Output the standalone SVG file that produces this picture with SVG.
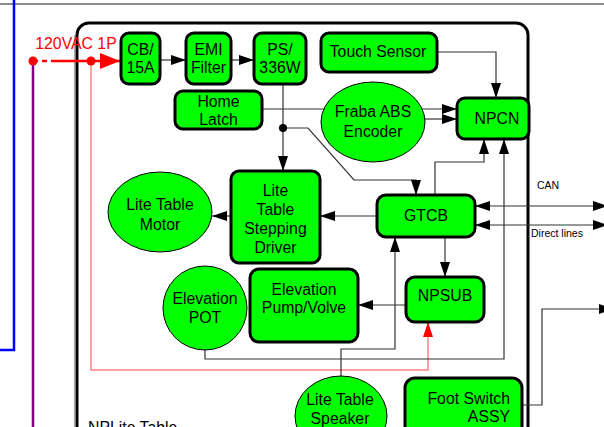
<svg xmlns="http://www.w3.org/2000/svg" width="604" height="427" viewBox="0 0 604 427">
<style>
text{font-family:"Liberation Sans",Arial,sans-serif;font-size:15.8px;fill:#000;text-anchor:middle}
.box{fill:#00ff00;stroke:#000;stroke-width:3}
.ell{fill:#00ff00;stroke:#000;stroke-width:1}
.c{fill:none;stroke:#333;stroke-width:1.2}
.small{font-size:10.5px;text-anchor:start}
</style>
<defs>
<marker id="ah" markerUnits="userSpaceOnUse" markerWidth="15" markerHeight="10" refX="15" refY="5" orient="auto-start-reverse"><path d="M0,0L15,5L0,10z" fill="#000"/></marker>
<marker id="rah" markerUnits="userSpaceOnUse" markerWidth="20" markerHeight="16" refX="20" refY="8" orient="auto"><path d="M0,0L20,8L0,16z" fill="#ff0000"/></marker>
<marker id="rah2" markerUnits="userSpaceOnUse" markerWidth="15" markerHeight="10" refX="15" refY="5" orient="auto"><path d="M0,0L15,5L0,10z" fill="#ff0000"/></marker>
</defs>
<rect width="604" height="427" fill="#fff"/>
<line x1="0" y1="4" x2="604" y2="4" stroke="#666" stroke-width="1.3"/>
<polyline points="14,0 14,350 0,350" fill="none" stroke="#0000ff" stroke-width="2.5"/>
<line x1="33" y1="61" x2="33" y2="427" stroke="#800080" stroke-width="2.5"/>
<g id="container">
<line x1="74.5" y1="35" x2="74.5" y2="427" stroke="#aaa" stroke-width="1.2"/>
<rect x="77" y="23" width="451" height="460" rx="12" fill="none" stroke="#000" stroke-width="3"/>
<text x="88" y="433" style="text-anchor:start">NPLite Table</text>
</g>
<g id="power">
<line x1="33" y1="61" x2="55" y2="61" stroke="#ff0000" stroke-width="2.5" stroke-dasharray="5,4"/>
<line x1="55" y1="61" x2="120" y2="61" stroke="#ff0000" stroke-width="2.5" marker-end="url(#rah)"/>
<polyline points="91,61 91,370 428,370 428,322" fill="none" stroke="#ff8080" stroke-width="1.5" marker-end="url(#rah2)"/>
<circle cx="33" cy="61" r="4.5" fill="#ff0000"/>
<circle cx="91" cy="61" r="4.5" fill="#ff0000"/>
<text x="76" y="49" style="fill:#ff0000">120VAC 1P</text>
</g>
<g id="connectors">
<path class="c" d="M160,60H186" marker-end="url(#ah)"/>
<path class="c" d="M231,60H254" marker-end="url(#ah)"/>
<path class="c" d="M283,84V171" marker-end="url(#ah)"/>
<path class="c" d="M262,109H457" marker-end="url(#ah)"/>
<path class="c" d="M425,119H457" marker-end="url(#ah)"/>
<path class="c" d="M437,52H496V98" marker-end="url(#ah)"/>
<path class="c" d="M283,128H308L354,180H416V195" marker-end="url(#ah)"/>
<circle cx="283" cy="128" r="4" fill="#000"/>
<path class="c" d="M435,195V162H484V139" marker-end="url(#ah)"/>
<path class="c" d="M205,350V359H504V139" marker-end="url(#ah)"/>
<path class="c" d="M377,216H320" marker-end="url(#ah)"/>
<path class="c" d="M231,216H212" marker-end="url(#ah)"/>
<path class="c" d="M445,237V277" marker-end="url(#ah)"/>
<path class="c" d="M406,305H358" marker-end="url(#ah)"/>
<path class="c" d="M341,376V349H395V237" marker-end="url(#ah)"/>
<path class="c" d="M475,206H608" marker-start="url(#ah)" marker-end="url(#ah)"/>
<path class="c" d="M475,225H608" marker-start="url(#ah)" marker-end="url(#ah)"/>
<path class="c" d="M522,405H542V309H614" marker-end="url(#ah)"/>
<text class="small" x="537" y="189">CAN</text>
<text class="small" x="531" y="237">Direct lines</text>
</g>
<g id="cb"><rect class="box" x="121" y="33" width="39" height="51" rx="8"/><text x="140.5" y="55">CB/</text><text x="140.5" y="73">15A</text></g>
<g id="emi"><rect class="box" x="186" y="33" width="45" height="51" rx="8"/><text x="208.5" y="55">EMI</text><text x="208.5" y="73">Filter</text></g>
<g id="ps"><rect class="box" x="254" y="33" width="52" height="51" rx="8"/><text x="280" y="55">PS/</text><text x="280" y="73">336W</text></g>
<g id="touch"><rect class="box" x="321" y="33" width="116" height="39" rx="8"/><text x="378" y="57">Touch Sensor</text></g>
<g id="home"><rect class="box" x="175" y="91" width="87" height="38" rx="8"/><text x="218.5" y="106.5">Home</text><text x="218.5" y="124.5">Latch</text></g>
<g id="fraba"><ellipse class="ell" cx="373" cy="122" rx="52" ry="40"/><text x="373" y="117">Fraba ABS</text><text x="373" y="137">Encoder</text></g>
<g id="npcn"><rect class="box" x="457" y="98" width="72" height="41" rx="8"/><text x="497" y="124">NPCN</text></g>
<g id="motor"><ellipse class="ell" cx="160" cy="212" rx="52" ry="40"/><text x="160" y="210">Lite Table</text><text x="160" y="230">Motor</text></g>
<g id="driver"><rect class="box" x="231" y="171" width="89" height="92" rx="8"/><text x="275.5" y="196">Lite</text><text x="275.5" y="215">Table</text><text x="275.5" y="234">Stepping</text><text x="275.5" y="253">Driver</text></g>
<g id="gtcb"><rect class="box" x="377" y="195" width="98" height="42" rx="9"/><text x="426" y="221">GTCB</text></g>
<g id="pot"><circle class="ell" cx="205" cy="308" r="42"/><text x="205" y="304">Elevation</text><text x="205" y="323">POT</text></g>
<g id="pump"><rect class="box" x="250" y="269" width="108" height="73" rx="9"/><text x="304" y="294.5">Elevation</text><text x="304" y="313">Pump/Volve</text></g>
<g id="npsub"><rect class="box" x="406" y="277" width="78" height="45" rx="9"/><text x="445" y="301">NPSUB</text></g>
<g id="speaker"><ellipse class="ell" cx="341" cy="416" rx="46" ry="40"/><text x="340" y="405">Lite Table</text><text x="340" y="424">Speaker</text></g>
<g id="foot"><rect class="box" x="405" y="378" width="117" height="80" rx="10"/><text x="510" y="404" style="text-anchor:end">Foot Switch</text><text x="510" y="422" style="text-anchor:end">ASSY</text></g>
</svg>
